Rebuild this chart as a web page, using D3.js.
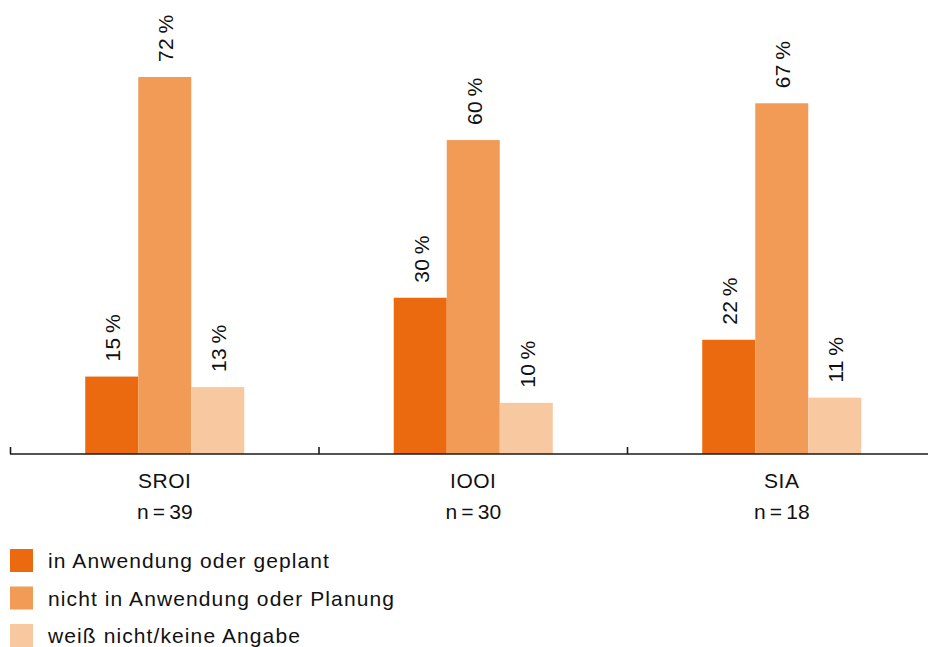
<!DOCTYPE html>
<html>
<head>
<meta charset="utf-8">
<script src="https://cdn.jsdelivr.net/npm/d3@7"></script>
<style>
  body { margin: 0; background: #fff; }
  svg { display: block; font-family: "Liberation Sans", Arial, sans-serif; }
  text { fill: #111; }
</style>
</head>
<body>
<svg id="chart" width="928" height="647"></svg>
<script>
// chart data
const categories = ["SROI", "IOOI", "SIA"]
const sampleSizes = ["n\u2009=\u200939", "n\u2009=\u200930", "n\u2009=\u200918"]
const seriesNames = ["in Anwendung oder geplant", "nicht in Anwendung oder Planung", "weiß nicht/keine Angabe"]
const inUse = [15, 30, 22]
const notInUse = [72, 60, 67]
const unknown = [13, 10, 11]
const colors = ["#eb6a0f", "#f19b57", "#f8c9a0"]

const rows = categories.map((c, i) => ({ cat: c, n: sampleSizes[i], vals: [inUse[i], notInUse[i], unknown[i]] }))

const svg = d3.select("#chart")
const baseY = 454

const x0 = d3.scaleBand()
    .domain(categories)
    .range([10.5, 10.5 + 3 * 308.5])

const x1 = d3.scaleBand()
    .domain(d3.range(seriesNames.length))
    .range([0, x0.bandwidth()])
    .paddingOuter(1.41)

const y = d3.scaleLinear()
    .domain([0, 72])
    .range([455.4, 77])

// bars
const groups = svg.append("g")
    .selectAll("g")
    .data(rows)
    .enter().append("g")
    .attr("transform", d => "translate(" + x0(d.cat) + ",0)")

groups.selectAll("rect")
    .data(d => d.vals)
    .enter().append("rect")
    .attr("x", (d, i) => x1(i))
    .attr("y", d => y(d))
    .attr("width", x1.bandwidth())
    .attr("height", d => baseY - y(d))
    .attr("fill", (d, i) => colors[i])

// value labels, rotated
groups.selectAll("text.val")
    .data(d => d.vals)
    .enter().append("text")
    .attr("class", "val")
    .attr("transform", (d, i) => "translate(" + (x1(i) + x1.bandwidth() / 2 + 1) + "," + (y(d) - 15) + ") rotate(-90)")
    .attr("dy", "0.36em")
    .style("font-size", "21px")
    .style("letter-spacing", "0.3px")
    .text(d => d + "\u2009%")

// axis line and ticks at band edges
svg.append("line")
    .attr("x1", 10).attr("x2", 928)
    .attr("y1", baseY).attr("y2", baseY)
    .attr("stroke", "#1a1a1a")
    .attr("stroke-width", 1.6)

svg.append("g")
    .selectAll("line")
    .data(categories)
    .enter().append("line")
    .attr("x1", d => x0(d)).attr("x2", d => x0(d))
    .attr("y1", baseY - 7).attr("y2", baseY)
    .attr("stroke", "#1a1a1a")
    .attr("stroke-width", 1.6)

// category labels
const catLabels = svg.append("g")
    .selectAll("g")
    .data(rows)
    .enter().append("g")
    .attr("transform", d => "translate(" + (x0(d.cat) + x0.bandwidth() / 2) + ",0)")

catLabels.append("text")
    .attr("y", 488)
    .attr("text-anchor", "middle")
    .style("font-size", "21px")
    .style("letter-spacing", "0.5px")
    .text(d => d.cat)

catLabels.append("text")
    .attr("y", 519)
    .attr("text-anchor", "middle")
    .style("font-size", "21px")
    .text(d => d.n)

// legend
const legend = svg.append("g")
    .selectAll("g")
    .data(seriesNames)
    .enter().append("g")
    .attr("transform", (d, i) => "translate(10," + (549 + i * 37.5) + ")")

legend.append("rect")
    .attr("width", 23)
    .attr("height", 23)
    .attr("fill", (d, i) => colors[i])

legend.append("text")
    .attr("x", 38)
    .attr("y", 19)
    .style("font-size", "21px")
    .style("letter-spacing", "1.1px")
    .text(d => d)
</script>
</body>
</html>
